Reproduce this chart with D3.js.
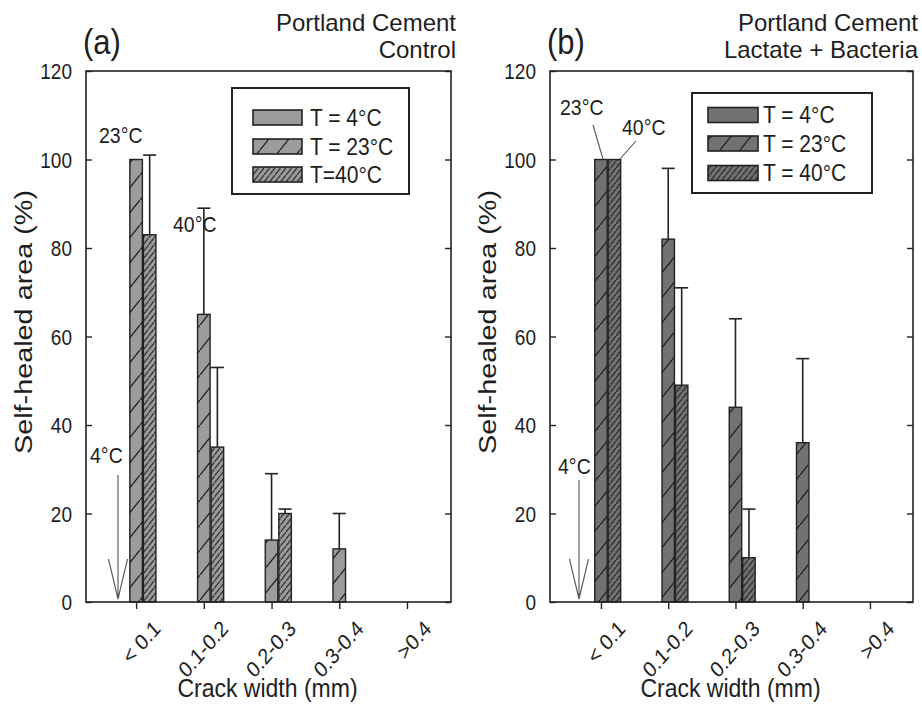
<!DOCTYPE html>
<html>
<head>
<meta charset="utf-8">
<script src="https://cdn.jsdelivr.net/npm/d3@7"></script>
<style>
    body { margin: 0; background: #fff; }
    svg text { font-family: "Liberation Sans", Arial, sans-serif; fill: #1e1e1e; }
</style>
</head>
<body>
<svg id="chart" width="922" height="704"></svg>
<script>
(function(){
    'use strict';

    // crack width classes, shared by both panels
    var categories = ['< 0.1', '0.1-0.2', '0.2-0.3', '0.3-0.4', '>0.4'];
    var yTicks = [0, 20, 40, 60, 80, 100, 120];

    // (a) Portland cement, control
    var controlLegend = ['T = 4°C', 'T = 23°C', 'T=40°C'];
    var control4 = [0, 0, 0, 0, 0];
    var control23 = [100, 65, 14, 12, 0];
    var control40 = [83, 35, 20, 0, 0];
    var control23Err = [0, 24, 15, 8, 0];
    var control40Err = [18, 18, 1, 0, 0];

    // (b) Portland cement, lactate + bacteria
    var bacteriaLegend = ['T = 4°C', 'T = 23°C', 'T = 40°C'];
    var bacteria4 = [0, 0, 0, 0, 0];
    var bacteria23 = [100, 82, 44, 36, 0];
    var bacteria40 = [100, 49, 10, 0, 0];
    var bacteria23Err = [0, 16, 20, 19, 0];
    var bacteria40Err = [0, 22, 11, 0, 0];

    var panels = [
        {
            id: 'a', left: 86, right: 451, domain: [-0.74, 4.65],
            fill: '#9c9c9c', label: '(a)', titles: ['Portland Cement', 'Control'],
            legend: controlLegend,
            series: [control4, control23, control40],
            errors: [control4, control23Err, control40Err],
            legendBox: {x: 232, y: 88, w: 177, h: 106, sx: 253, sw: 49, rows: [117.5, 146.5, 174.5], tx: 310},
            notes: [
                {text: '23°C', x: 99, y: 143},
                {text: '40°C', x: 173, y: 232},
                {text: '4°C', x: 90, y: 463}
            ],
            leaders: [],
            arrow: {x: 118, y0: 475}
        },
        {
            id: 'b', left: 550, right: 913, domain: [-0.758, 4.64],
            fill: '#727272', label: '(b)', titles: ['Portland Cement', 'Lactate + Bacteria'],
            legend: bacteriaLegend,
            series: [bacteria4, bacteria23, bacteria40],
            errors: [bacteria4, bacteria23Err, bacteria40Err],
            legendBox: {x: 692, y: 93, w: 180, h: 100, sx: 708, sw: 50, rows: [115, 143.5, 173], tx: 763},
            notes: [
                {text: '23°C', x: 560, y: 115},
                {text: '40°C', x: 622, y: 135},
                {text: '4°C', x: 558, y: 474}
            ],
            leaders: [[593, 125, 603, 159], [636, 141, 620, 159]],
            arrow: {x: 579, y0: 480}
        }
    ];

    var top = 71, bottom = 602;
    var ink = '#222';
    var stretch = 1.14;   // the figure's lettering is a little taller than wide
    var svg = d3.select('#chart');
    var defs = svg.append('defs');

    var y = d3.scaleLinear().domain([0, 120]).range([bottom, top]);

    function place(x0, y0, k) {
        return 'translate(' + x0 + ',' + y0 + ') scale(1,' + (k || stretch) + ')';
    }

    panels.forEach(function (p) {
        // hatch patterns: none / sparse "/" / dense "/"
        var sparse = defs.append('pattern')
            .attr('id', 'sparse-' + p.id)
            .attr('patternUnits', 'userSpaceOnUse')
            .attr('width', 20).attr('height', 25);
        sparse.append('rect').attr('width', 20).attr('height', 25).attr('fill', p.fill);
        sparse.append('path')
            .attr('d', 'M-1,26.25L21,-1.25')
            .attr('stroke', ink).attr('stroke-width', 1.4);

        var dense = defs.append('pattern')
            .attr('id', 'dense-' + p.id)
            .attr('patternUnits', 'userSpaceOnUse')
            .attr('width', 5.5).attr('height', 7);
        dense.append('rect').attr('width', 5.5).attr('height', 7).attr('fill', p.fill);
        dense.append('path')
            .attr('d', 'M-1,8.27L6.5,-1.27')
            .attr('stroke', ink).attr('stroke-width', 1.1);

        var fills = [p.fill, 'url(#sparse-' + p.id + ')', 'url(#dense-' + p.id + ')'];

        var x = d3.scaleLinear().domain(p.domain).range([p.left, p.right]);
        var step = x(0.2) - x(0);
        var barW = step - 1;

        var g = svg.append('g').attr('class', 'panel-' + p.id);

        // bars
        p.series.forEach(function (vals, s) {
            g.selectAll('.bar-' + s)
                .data(vals.map(function (v, i) { return {v: v, i: i}; }).filter(function (d) { return d.v > 0; }))
                .enter().append('rect')
                .attr('class', 'bar-' + s)
                .attr('x', function (d) { return x(d.i + (s - 1) * 0.2) - barW / 2; })
                .attr('y', function (d) { return y(d.v); })
                .attr('width', barW)
                .attr('height', function (d) { return y(0) - y(d.v); })
                .attr('fill', fills[s])
                .attr('stroke', ink).attr('stroke-width', 1.4);
        });

        // upper error bars
        p.series.forEach(function (vals, s) {
            var errs = vals.map(function (v, i) {
                return {v: v, e: p.errors[s][i], i: i};
            }).filter(function (d) { return d.v > 0 && d.e > 0; });

            var eb = g.selectAll('.err-' + s).data(errs).enter().append('g')
                .attr('class', 'err-' + s)
                .attr('stroke', ink).attr('stroke-width', 1.6);
            eb.append('line')
                .attr('x1', function (d) { return x(d.i + (s - 1) * 0.2); })
                .attr('x2', function (d) { return x(d.i + (s - 1) * 0.2); })
                .attr('y1', function (d) { return y(d.v); })
                .attr('y2', function (d) { return y(d.v + d.e); });
            eb.append('line')
                .attr('x1', function (d) { return x(d.i + (s - 1) * 0.2) - 6.5; })
                .attr('x2', function (d) { return x(d.i + (s - 1) * 0.2) + 6.5; })
                .attr('y1', function (d) { return y(d.v + d.e); })
                .attr('y2', function (d) { return y(d.v + d.e); });
        });

        // axes
        var yAxis = g.append('g')
            .attr('transform', 'translate(' + p.left + ',0)')
            .call(d3.axisLeft(y).tickValues(yTicks).tickSize(-6).tickPadding(14));
        yAxis.selectAll('text')
            .attr('x', 0).attr('dy', '0.36em')
            .attr('transform', 'translate(-14,0) scale(1,' + stretch + ')')
            .style('font-size', '19px');

        g.append('g')
            .attr('transform', 'translate(' + p.right + ',0)')
            .call(d3.axisRight(y).tickValues(yTicks).tickSize(-6).tickFormat(''));

        var xAxis = g.append('g')
            .attr('transform', 'translate(0,' + bottom + ')')
            .call(d3.axisBottom(x).tickValues(d3.range(categories.length)).tickSize(7)
                .tickFormat(function (i) { return categories[i]; }));
        xAxis.selectAll('text')
            .attr('x', 0).attr('y', 0).attr('dy', 0)
            .attr('transform', 'translate(25,28) scale(1,' + stretch + ') rotate(-45)')
            .style('text-anchor', 'end')
            .style('font-size', '19.5px');

        g.selectAll('.domain').remove();
        g.selectAll('.tick line').attr('stroke', ink).attr('stroke-width', 1.4);

        g.append('rect')
            .attr('x', p.left).attr('y', top)
            .attr('width', p.right - p.left).attr('height', bottom - top)
            .attr('fill', 'none').attr('stroke', ink).attr('stroke-width', 1.6);

        // axis titles
        g.append('text')
            .attr('transform', 'translate(' + (p.left - 54) + ',' + 322 + ') scale(1,1.2) rotate(-90)')
            .style('text-anchor', 'middle')
            .style('font-size', '24px')
            .text('Self-healed area (%)');

        g.append('text')
            .attr('transform', place((p.left + p.right) / 2 - 1, 697))
            .style('text-anchor', 'middle')
            .style('font-size', '23px')
            .text('Crack width (mm)');

        // panel label and titles
        g.append('text')
            .attr('transform', place(p.left - 3, 54))
            .style('font-size', '31px')
            .text(p.label);

        g.selectAll('.title').data(p.titles).enter().append('text')
            .attr('class', 'title')
            .attr('transform', function (d, i) { return place(p.right + 5, 30.5 + i * 27, 1); })
            .style('text-anchor', 'end')
            .style('font-size', '24px')
            .text(function (d) { return d; });

        // legend
        var lb = p.legendBox;
        var legend = g.append('g');
        legend.append('rect')
            .attr('x', lb.x).attr('y', lb.y).attr('width', lb.w).attr('height', lb.h)
            .attr('fill', '#fff').attr('stroke', ink).attr('stroke-width', 2);
        legend.selectAll('.swatch').data(p.legend).enter().append('rect')
            .attr('class', 'swatch')
            .attr('x', lb.sx).attr('y', function (d, i) { return lb.rows[i] - 7.5; })
            .attr('width', lb.sw).attr('height', 15)
            .attr('fill', function (d, i) { return fills[i]; })
            .attr('stroke', ink).attr('stroke-width', 1.6);
        legend.selectAll('.ltext').data(p.legend).enter().append('text')
            .attr('class', 'ltext')
            .attr('transform', function (d, i) { return place(lb.tx, lb.rows[i] + 8); })
            .style('font-size', '21px')
            .text(function (d) { return d; });

        // temperature notes
        g.selectAll('.note').data(p.notes).enter().append('text')
            .attr('class', 'note')
            .attr('transform', function (d) { return place(d.x, d.y); })
            .style('font-size', '19.5px')
            .text(function (d) { return d.text; });

        g.selectAll('.leader').data(p.leaders).enter().append('line')
            .attr('class', 'leader')
            .attr('x1', function (d) { return d[0]; }).attr('y1', function (d) { return d[1]; })
            .attr('x2', function (d) { return d[2]; }).attr('y2', function (d) { return d[3]; })
            .attr('stroke', '#555').attr('stroke-width', 1.1);

        // 4°C arrow pointing to zero
        var a = p.arrow, tip = y(0) - 3;
        g.append('path')
            .attr('d', 'M' + a.x + ',' + a.y0 + 'V' + tip +
                'M' + (a.x - 9.5) + ',' + (tip - 40) + 'L' + a.x + ',' + tip +
                'L' + (a.x + 9.5) + ',' + (tip - 40))
            .attr('fill', 'none').attr('stroke', '#555').attr('stroke-width', 1.1);
    });
})();
</script>
</body>
</html>
